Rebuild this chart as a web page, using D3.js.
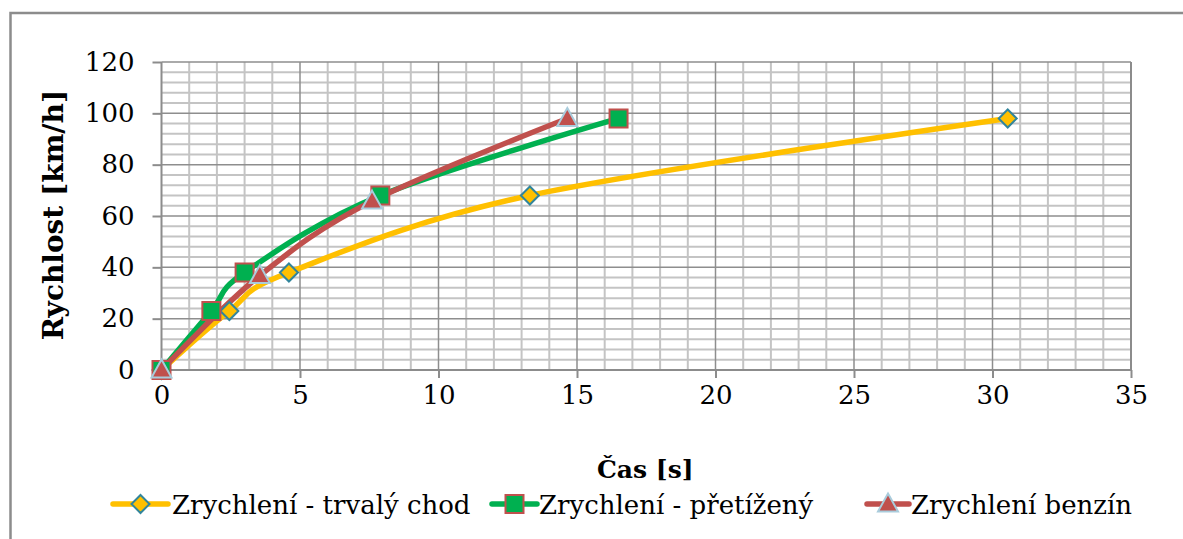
<!DOCTYPE html>
<html>
<head>
<meta charset="utf-8">
<script src="https://cdn.jsdelivr.net/npm/d3@7"></script>
<style>
  html, body { margin: 0; padding: 0; background: #fff; }
  svg { display: block; }
</style>
</head>
<body>
<svg id="chart" width="1183" height="539"></svg>
<script>
// Acceleration measurements: time [s] vs speed [km/h]
const seriesNames = ["Zrychlení - trvalý chod", "Zrychlení - přetížený", "Zrychlení benzín"];
const steadyTime  = [0, 2.45, 4.6, 13.3, 30.55];
const steadySpeed = [0, 23, 38, 68, 98];
const loadedTime  = [0, 1.8, 3.0, 7.9, 16.5];
const loadedSpeed = [0, 23, 38, 68, 98];
const petrolTime  = [0, 3.55, 7.6, 14.65];
const petrolSpeed = [0, 36.8, 65.8, 98];

const xTicks = [0, 5, 10, 15, 20, 25, 30, 35];
const yTicks = [0, 20, 40, 60, 80, 100, 120];
const xTitle = "Čas [s]";
const yTitle = "Rychlost [km/h]";

const FONT = "DejaVu Serif";

const svg = d3.select("#chart");
const W = 1183, H = 539;
const plot = { left: 161.5, right: 1131, top: 62, bottom: 370 };

const x = d3.scaleLinear().domain([0, 35]).range([plot.left, plot.right]);
const y = d3.scaleLinear().domain([0, 120]).range([plot.bottom, plot.top]);

// outer chart frame
svg.append("rect")
  .attr("x", 10.5).attr("y", 13).attr("width", W + 20).attr("height", H + 20)
  .attr("fill", "#fff").attr("stroke", "#8c8c8c").attr("stroke-width", 2.5);

// minor grid
const g = svg.append("g");
g.selectAll("line.minx").data(d3.range(0, 36, 1).filter(v => v % 5 !== 0))
  .join("line")
  .attr("x1", d => x(d)).attr("x2", d => x(d))
  .attr("y1", plot.top).attr("y2", plot.bottom)
  .attr("stroke", "#c4c4c4").attr("stroke-width", 2);
g.selectAll("line.miny").data(d3.range(0, 121, 4).filter(v => v % 20 !== 0))
  .join("line")
  .attr("x1", plot.left).attr("x2", plot.right)
  .attr("y1", d => y(d)).attr("y2", d => y(d))
  .attr("stroke", "#c4c4c4").attr("stroke-width", 2);

// major grid
g.selectAll("line.majx").data(xTicks.slice(1))
  .join("line")
  .attr("x1", d => x(d)).attr("x2", d => x(d))
  .attr("y1", plot.top).attr("y2", plot.bottom)
  .attr("stroke", "#8e8e8e").attr("stroke-width", 1.5);
g.selectAll("line.majy").data(yTicks.slice(1))
  .join("line")
  .attr("x1", plot.left).attr("x2", plot.right)
  .attr("y1", d => y(d)).attr("y2", d => y(d))
  .attr("stroke", "#8e8e8e").attr("stroke-width", 1.5);

// axes
const xAxis = d3.axisBottom(x).tickValues(xTicks).tickSize(8).tickPadding(8);
const yAxis = d3.axisLeft(y).tickValues(yTicks).tickSize(9).tickPadding(18);

const gx = svg.append("g").attr("transform", `translate(0,${plot.bottom})`).call(xAxis);
const gy = svg.append("g").attr("transform", `translate(${plot.left},0)`).call(yAxis);
[gx, gy].forEach(a => {
  a.attr("font-family", FONT).attr("font-size", 26);
  a.select(".domain").attr("stroke", "#8c8c8c").attr("stroke-width", 2);
  a.selectAll(".tick line").attr("stroke", "#8c8c8c").attr("stroke-width", 2);
  a.selectAll(".tick text").attr("fill", "#000");
});
gy.select(".domain").attr("d", `M0,${plot.top}V${plot.bottom}`);
gx.select(".domain").attr("d", `M${plot.left},0H${plot.right}`);
// right border of plot
svg.append("line").attr("x1", plot.right).attr("x2", plot.right)
  .attr("y1", plot.top).attr("y2", plot.bottom)
  .attr("stroke", "#8c8c8c").attr("stroke-width", 2);

// axis titles
svg.append("text")
  .attr("x", (plot.left + plot.right) / 2 - 1).attr("y", 478)
  .attr("text-anchor", "middle")
  .attr("font-family", FONT).attr("font-size", 25).attr("font-weight", "bold")
  .text(xTitle);
svg.append("text")
  .attr("transform", `translate(63,${(plot.top + plot.bottom) / 2 - 1}) rotate(-90)`)
  .attr("text-anchor", "middle")
  .attr("font-family", FONT).attr("font-size", 28).attr("font-weight", "bold")
  .text(yTitle);

// series
const series = [
  { name: seriesNames[0], xs: steadyTime, ys: steadySpeed, color: "#FFC000", marker: "diamond", fill: "#FFC000", stroke: "#31859C" },
  { name: seriesNames[1], xs: loadedTime, ys: loadedSpeed, color: "#00B050", marker: "square", fill: "#00B050", stroke: "#C0504D" },
  { name: seriesNames[2], xs: petrolTime, ys: petrolSpeed, color: "#C0504D", marker: "triangle", fill: "#C0504D", stroke: "#A9CCDC" }
];

const line = d3.line().x(d => x(d[0])).y(d => y(d[1])).curve(d3.curveCardinal.tension(0));

function markerPath(type, s) {
  if (type === "diamond") return `M0,${-s}L${s},0L0,${s}L${-s},0Z`;
  if (type === "square") return `M${-s},${-s}H${s}V${s}H${-s}Z`;
  return `M0,${-s * 1.05}L${s},${s * 0.75}H${-s}Z`;
}
const markerSize = { diamond: 9, square: 9, triangle: 10 };

series.forEach(s => {
  const pts = s.xs.map((t, i) => [t, s.ys[i]]);
  svg.append("path").datum(pts)
    .attr("d", line).attr("fill", "none")
    .attr("stroke", s.color).attr("stroke-width", 5.5)
    .attr("stroke-linecap", "round").attr("stroke-linejoin", "round");
});
series.forEach(s => {
  const pts = s.xs.map((t, i) => [t, s.ys[i]]);
  svg.append("g").selectAll("path").data(pts).join("path")
    .attr("transform", d => `translate(${x(d[0])},${y(d[1])})`)
    .attr("d", markerPath(s.marker, markerSize[s.marker]))
    .attr("fill", s.fill).attr("stroke", s.stroke).attr("stroke-width", 2);
});

// legend
const legendY = 504;
const legendItems = [
  { lx1: 113, lx2: 168, tx: 172 },
  { lx1: 492, lx2: 537, tx: 539 },
  { lx1: 867, lx2: 909, tx: 911 }
];
series.forEach((s, i) => {
  const li = legendItems[i];
  const lg = svg.append("g");
  lg.append("line").attr("x1", li.lx1).attr("x2", li.lx2)
    .attr("y1", legendY).attr("y2", legendY)
    .attr("stroke", s.color).attr("stroke-width", 5.5).attr("stroke-linecap", "round");
  lg.append("path")
    .attr("transform", `translate(${(li.lx1 + li.lx2) / 2},${legendY})`)
    .attr("d", markerPath(s.marker, markerSize[s.marker]))
    .attr("fill", s.fill).attr("stroke", s.stroke).attr("stroke-width", 2);
  lg.append("text").attr("x", li.tx).attr("y", legendY + 10)
    .attr("font-family", FONT).attr("font-size", 26).text(s.name);
});
</script>
</body>
</html>
